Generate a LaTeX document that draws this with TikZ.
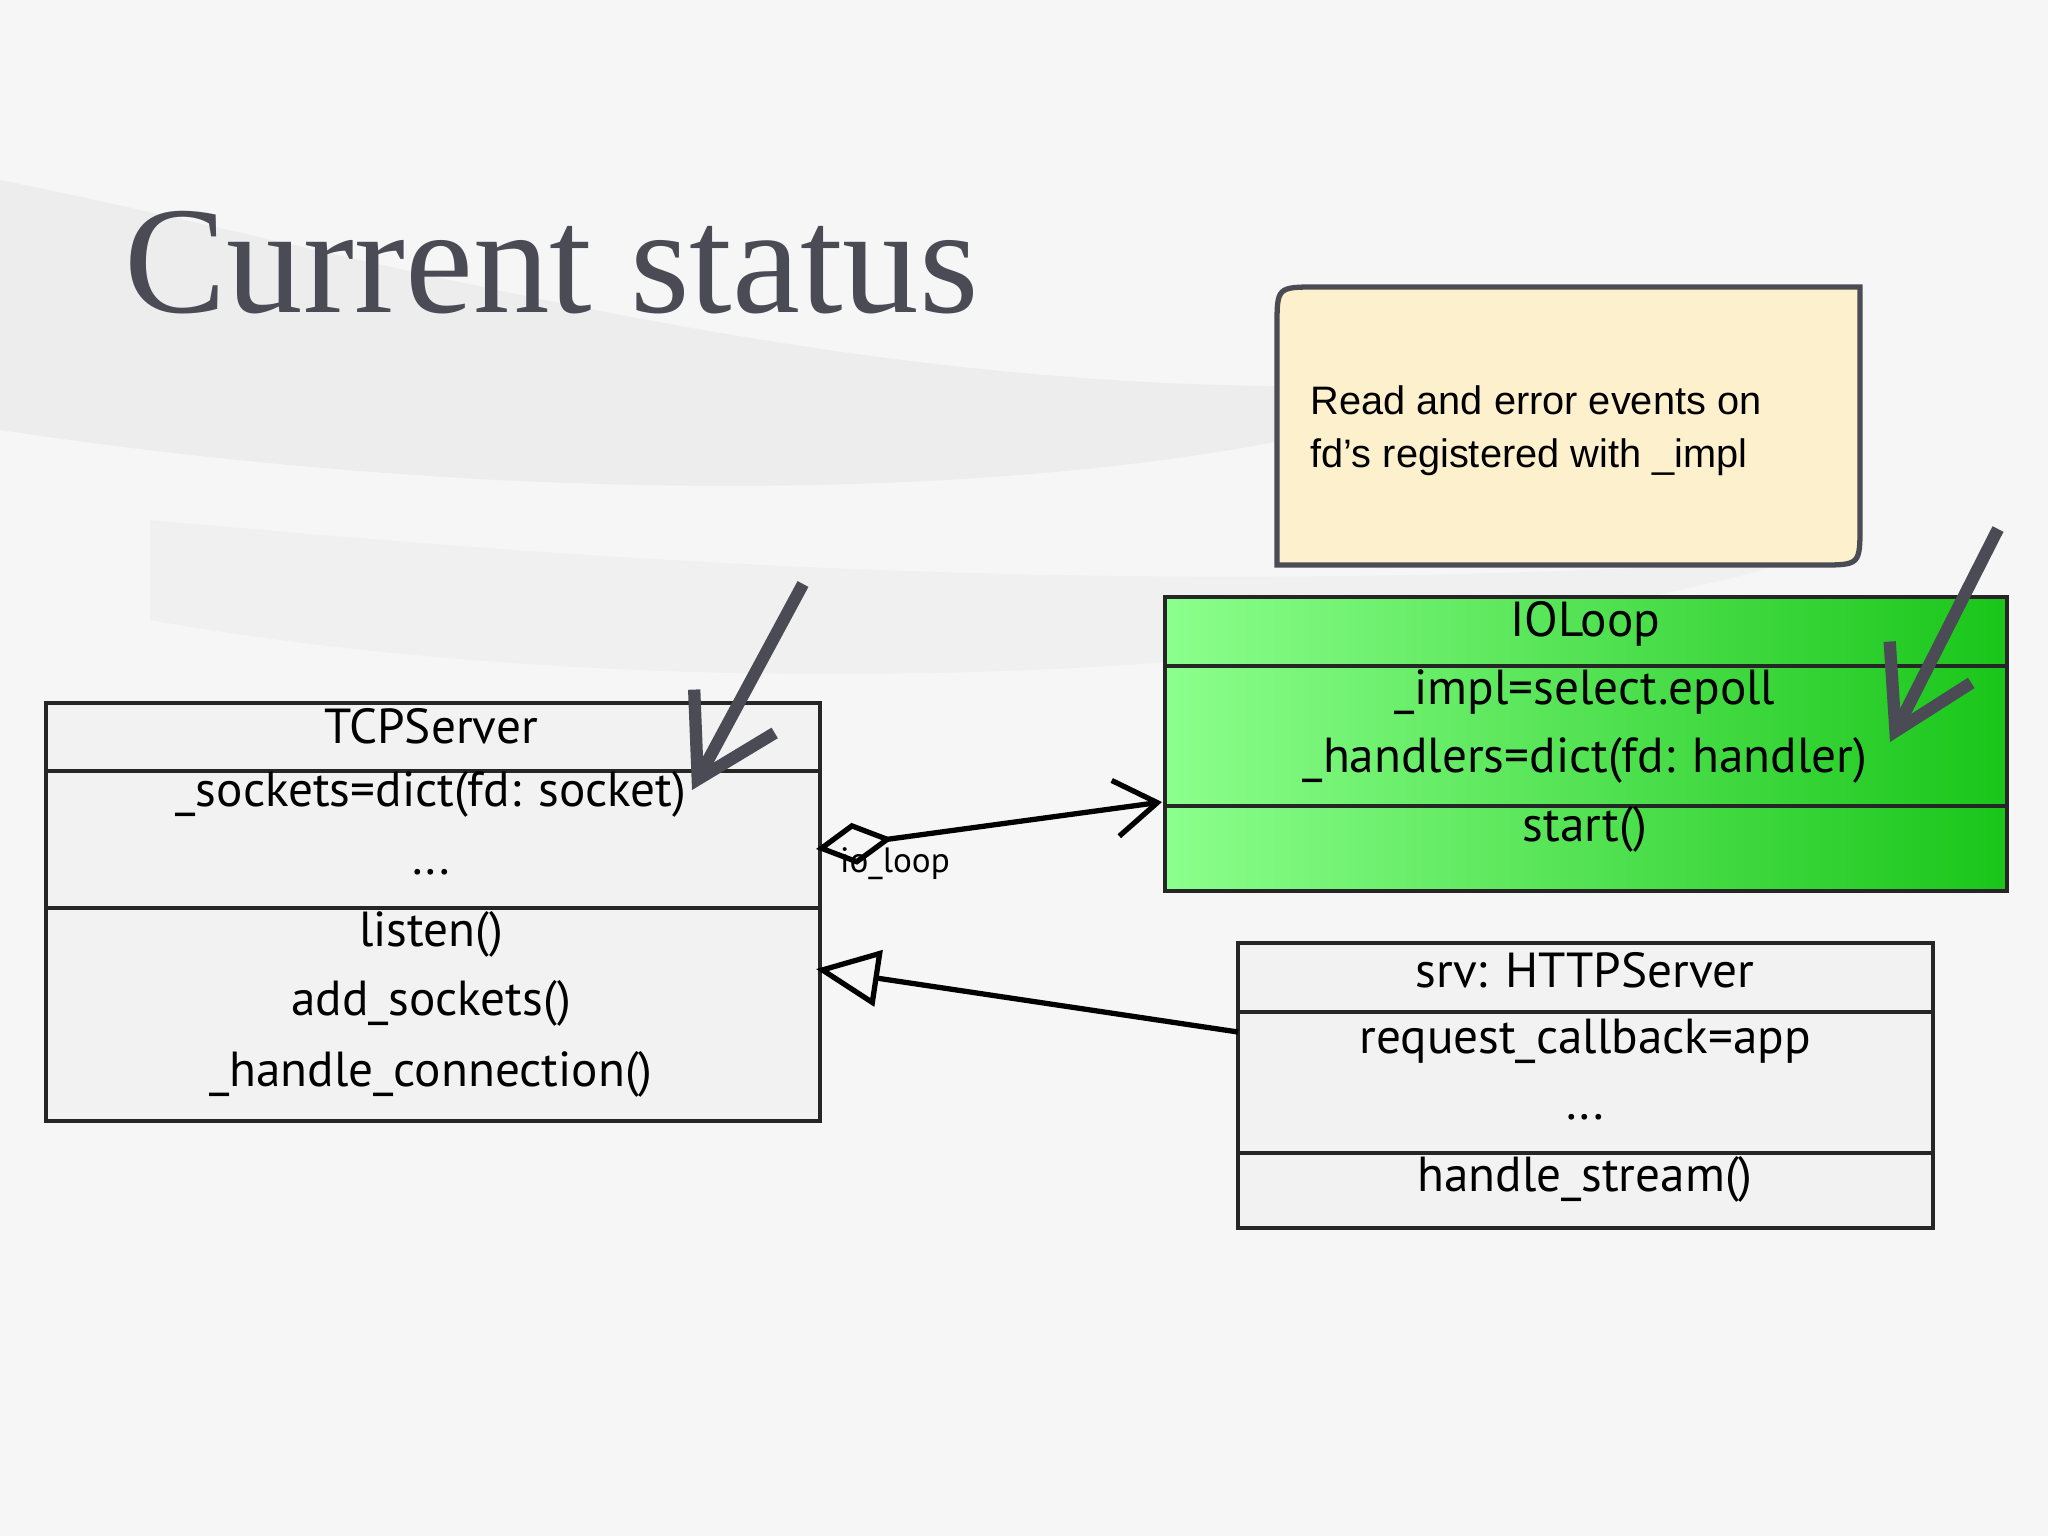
\documentclass[tikz,border=0pt]{standalone}
\usepackage{fontspec}
\setmainfont{Liberation Sans}
\newfontfamily\titlefont{Liberation Serif}
\newfontfamily\hand{PT Sans}
\usetikzlibrary{arrows.meta,shadings}
\definecolor{ink}{HTML}{4A4B55}
\definecolor{note}{HTML}{FDF0CC}
\definecolor{bg}{HTML}{F6F6F6}
\begin{document}
\begin{tikzpicture}[x=0.01cm,y=-0.01cm,
  box/.style={draw=black!85,line width=1.4pt,fill=black!5},
  lbl/.style={font=\hand\fontsize{14}{14}\selectfont,anchor=center,inner sep=0},
  sep/.style={line width=1.2pt,black!85},
  big/.style={draw=ink,line width=3.5pt,-{Straight Barb[length=22pt,width=26pt,line width=3.5pt]}}]
\useasboundingbox (0,0) rectangle (2048,1536);
\fill[bg] (0,0) rectangle (2048,1536);
\fill[black!9,opacity=.6] (0,180) .. controls (400,260) and (900,420) .. (1500,380) .. controls (1200,500) and (600,520) .. (0,430) -- cycle;
\fill[black!7,opacity=.6] (150,520) .. controls (600,560) and (1100,600) .. (1800,560) .. controls (1300,700) and (600,700) .. (150,620) -- cycle;
\node[anchor=base west,inner sep=0,text=ink,font={\titlefont\fontsize{43.5}{44}\selectfont}] (title) at (124,312) {Current status};
% note
\draw[draw=ink,line width=1.5pt,fill=note] (1277,565) -- (1277,327) .. controls (1277,287) .. (1317,287) -- (1860,287) -- (1860,525) .. controls (1860,565) .. (1820,565) -- cycle;
\node[anchor=north west,align=left,inner sep=0,font=\fontsize{11.3}{15}\selectfont,text=black] (nt) at (1310,385) {Read and error events on\\fd's registered with \_impl};
% TCPServer
\draw[box] (46,703) rectangle (820,1121);
\coordinate (tcp) at (433,912);
\draw[sep] (46,771) -- (820,771);
\draw[sep] (46,908) -- (820,908);
\node[lbl] (t1) at (431,726) {TCPServer};
\node[lbl] (t2) at (431,794) {\_sockets=dict(fd: socket)};
\node[lbl] (t3) at (431,872) {...};
\node[lbl] (t4) at (431,934) {listen()};
\node[lbl] (t5) at (431,1003) {add\_sockets()};
\node[lbl] (t6) at (431,1074) {\_handle\_connection()};
% IOLoop
\shade[left color=green!45!white,right color=green!75!black!90] (1165,597) rectangle (2007,891);
\draw[line width=1.4pt,black!85] (1165,597) rectangle (2007,891);
\draw[sep] (1165,666) -- (2007,666);
\draw[sep] (1165,806) -- (2007,806);
\node[lbl] (i1) at (1585,624) {IOLoop};
\node[lbl] (i2) at (1585,692) {\_impl=select.epoll};
\node[lbl] (i3) at (1585,760) {\_handlers=dict(fd: handler)};
\node[lbl] (i4) at (1585,829) {start()};
% HTTPServer
\draw[box] (1238,943) rectangle (1933,1228);
\draw[sep] (1238,1012) -- (1933,1012);
\draw[sep] (1238,1153) -- (1933,1153);
\node[lbl] (h1) at (1585,970) {srv: HTTPServer};
\node[lbl] (h2) at (1585,1041) {request\_callback=app};
\node[lbl] (h3) at (1585,1117) {...};
\node[lbl] (h4) at (1585,1179) {handle\_stream()};
% connectors
\coordinate (a1) at (816,849);
\coordinate (a2) at (1162,802);
\draw[line width=1.5pt,{Diamond[open,length=22pt,width=12pt]}-{Straight Barb[length=12pt,width=16pt]}] (a1) -- (a2);
\node[font=\hand\fontsize{10}{10}\selectfont,anchor=center] (il) at (895,864) {io\_loop};
\coordinate (b1) at (1238,1032);
\coordinate (b2) at (816,969);
\draw[line width=1.5pt,-{Triangle[open,length=18pt,width=16pt]}] (b1) -- (b2);
\coordinate (c1) at (803,584); \coordinate (c2) at (692,790);
\draw[big] (c1) -- (c2);
\coordinate (d1) at (1998,529); \coordinate (d2) at (1890,742);
\draw[big] (d1) -- (d2);
\end{tikzpicture}
\end{document}
